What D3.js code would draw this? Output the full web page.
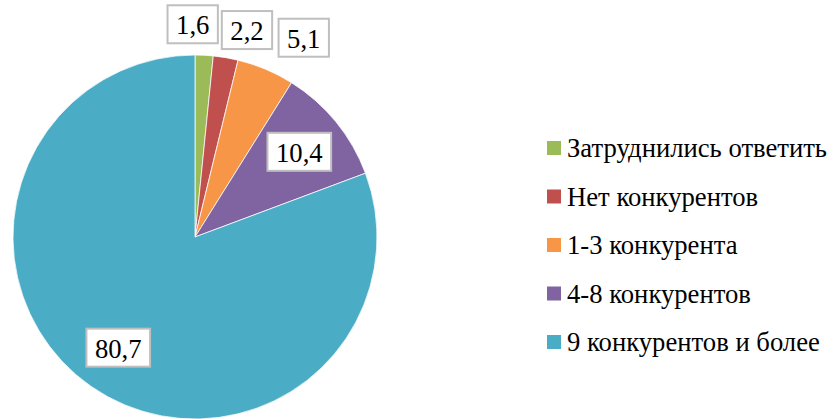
<!DOCTYPE html>
<html><head><meta charset="utf-8">
<script src="https://cdn.jsdelivr.net/npm/d3@7"></script>
<style>html,body{margin:0;padding:0;background:#fff;}svg{display:block;}</style>
</head><body>
<script>
const categories = ["Затруднились ответить","Нет конкурентов","1-3 конкурента","4-8 конкурентов","9 конкурентов и более"];
const values = [1.6, 2.2, 5.1, 10.4, 80.7];
const valueLabels = ["1,6","2,2","5,1","10,4","80,7"];
const colors = ["#9BBB59","#C0504D","#F79646","#8064A2","#4BACC6"];

const W = 834, H = 419;
const cx = 195, cy = 237, R = 182;
const FONT = '"Liberation Serif"';

const svg = d3.select("body").append("svg").attr("width", W).attr("height", H);
const g = svg.append("g").attr("transform", `translate(${cx},${cy})`);

const pie = d3.pie().sort(null).value(d => d);
const arcs = pie(values);
const arc = d3.arc().innerRadius(0).outerRadius(R);

g.selectAll("path.slice").data(arcs).enter().append("path")
  .attr("class","slice")
  .attr("d", arc)
  .attr("fill", (d,i) => colors[i])
  .attr("stroke", "#fff").attr("stroke-width", 0.75);

// label layout: inside for big slices, outside (best-fit style) for small ones
const inner = d3.arc().innerRadius(R*0.74).outerRadius(R*0.74);
const outer = d3.arc().innerRadius(R+31).outerRadius(R+31);
const nudge = [[-13,0],[16,3],[26,-3],[0,0],[0,0]]; // layout nudges for outside labels
const fs = 26.67;
const lg = g.append("g");
arcs.forEach((d,i) => {
  const outside = values[i] < 8;
  const c = outside ? outer.centroid(d) : inner.centroid(d);
  const x = c[0] + nudge[i][0], y = c[1] + nudge[i][1];
  const t = lg.append("text").attr("x", x).attr("y", y + 10)
    .attr("text-anchor","middle")
    .style("font-family", FONT).style("font-size", fs + "px").attr("fill","#000")
    .text(valueLabels[i]);
  const tw = t.node().getComputedTextLength();
  const bw = tw + 17, bh = 38;
  lg.insert("rect", "text").attr("x", x - bw/2).attr("y", y - bh/2)
    .attr("width", bw).attr("height", bh)
    .attr("fill","#fff").attr("stroke","#BFBFBF").attr("stroke-width",2);
});

// legend
const legend = svg.append("g").attr("transform","translate(547,148)");
const rowH = 48.5;
categories.forEach((c,i) => {
  const row = legend.append("g").attr("transform", `translate(0,${i*rowH})`);
  row.append("rect").attr("x",0).attr("y",-7).attr("width",14).attr("height",14).attr("fill",colors[i]);
  row.append("text").attr("x",20).attr("y",9)
    .style("font-family", FONT).style("font-size", fs + "px").attr("fill","#000").text(c);
});
</script>
</body></html>
